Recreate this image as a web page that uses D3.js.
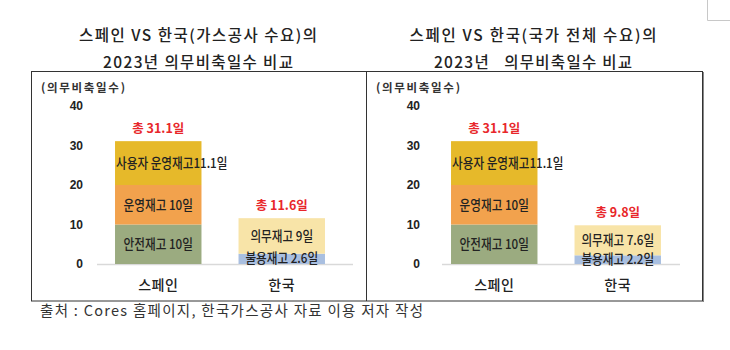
<!DOCTYPE html>
<html>
<head>
<meta charset="utf-8">
<script src="https://cdn.jsdelivr.net/npm/d3@7"></script>
<style>
  html, body { margin: 0; padding: 0; background: #fff; }
  svg { display: block; font-family: "Noto Sans CJK KR", "Noto Sans", sans-serif; }
</style>
</head>
<body>
<svg id="chart" width="730" height="350"></svg>
<script>
// Stockpile-obligation days, 2023
const categories = ["스페인", "한국"];
const spainLabels = ["안전재고", "운영재고", "사용자 운영재고"];
const spainDays = [10, 10, 11.1];
const koreaLabels = ["불용재고", "의무재고"];
const koreaGasDays = [2.6, 9];
const koreaNationalDays = [2.2, 7.6];
const yTicks = [0, 10, 20, 30, 40];

const titlesLeft = ["스페인 VS 한국(가스공사 수요)의", "2023년 의무비축일수 비교"];
const titlesRight = ["스페인 VS 한국(국가 전체 수요)의", "2023년\u00a0\u00a0\u00a0의무비축일수 비교"];
const yTitle = "(의무비축일수)";
const sourceNote = "출처 : Cores 홈페이지, 한국가스공사 자료 이용 저자 작성";

const spainColors = ["#9bab80", "#f2a24d", "#e6b92a"];
const koreaColors = ["#a9bfe0", "#f8e4a8"];

const svg = d3.select("#chart");

// corner mark at top right
svg.append("path")
  .attr("d", "M707.5,0 V20.5 H730")
  .attr("fill", "none").attr("stroke", "#c8c8c8").attr("stroke-width", 1);

// frame around both panels
svg.append("rect")
  .attr("x", 31.5).attr("y", 71.5).attr("width", 671).attr("height", 229.5)
  .attr("fill", "none").attr("stroke", "#333").attr("stroke-width", 1);
svg.append("line")
  .attr("x1", 703.5).attr("x2", 703.5).attr("y1", 72).attr("y2", 302)
  .attr("stroke", "#888").attr("stroke-width", 1);
svg.append("line")
  .attr("x1", 366.5).attr("x2", 366.5).attr("y1", 71.5).attr("y2", 301)
  .attr("stroke", "#333").attr("stroke-width", 1);

const y = d3.scaleLinear().domain([0, 40]).range([264, 106]);

function fmt(v) { return d3.format(".1f")(v).replace(/\.0$/, ""); }

// narrow a text run horizontally so the hangul reads condensed
function condense(sel, k) {
  const w = sel.node().getComputedTextLength();
  sel.attr("textLength", w * k).attr("lengthAdjust", "spacingAndGlyphs");
}

function drawPanel(opt) {
  const g = svg.append("g");

  // two-line title
  opt.titles.forEach((t, i) => {
    g.append("text")
      .attr("x", opt.titleX).attr("y", 41 + i * 27)
      .attr("text-anchor", "middle")
      .attr("font-size", 15.5).attr("font-weight", 500).attr("fill", "#222")
      .attr("textLength", opt.titleWidths[i]).attr("lengthAdjust", "spacing")
      .text(t);
  });

  g.append("text")
    .attr("x", opt.yTitleX).attr("y", 92)
    .attr("font-size", 11.5).attr("font-weight", 700).attr("fill", "#333")
    .attr("textLength", 84).attr("lengthAdjust", "spacing")
    .text(yTitle);

  const x = d3.scaleBand()
    .domain(categories)
    .range(opt.bandRange)
    .paddingInner(0.3)
    .paddingOuter(0.15);

  // value axis: labels only
  const yAxis = d3.axisLeft(y).tickValues(yTicks).tickSize(0).tickPadding(0);
  const ya = g.append("g").attr("transform", `translate(${opt.tickX},0)`).call(yAxis);
  ya.select(".domain").remove();
  ya.selectAll("text")
    .attr("font-family", "Liberation Sans, Arial, sans-serif")
    .attr("font-size", 12).attr("font-weight", 700).attr("fill", "#222");

  // baseline
  g.append("line")
    .attr("x1", opt.axisRange[0]).attr("x2", opt.axisRange[1])
    .attr("y1", y(0) + 0.5).attr("y2", y(0) + 0.5)
    .attr("stroke", "#d9d9d9").attr("stroke-width", 1.5);

  // category labels
  categories.forEach(c => {
    g.append("text")
      .attr("x", x(c) + x.bandwidth() / 2).attr("y", 290)
      .attr("text-anchor", "middle")
      .attr("font-size", 14).attr("font-weight", 500).attr("fill", "#222")
      .attr("letter-spacing", 0.5)
      .text(c);
  });

  const stacks = [
    { cat: "스페인", labels: spainLabels, values: spainDays, colors: spainColors },
    { cat: "한국", labels: koreaLabels, values: opt.koreaDays, colors: koreaColors }
  ];

  stacks.forEach(s => {
    let acc = 0;
    const segs = s.values.map((v, i) => {
      const seg = { y0: acc, y1: acc + v, v, label: s.labels[i], color: s.colors[i] };
      acc += v;
      return seg;
    });
    const bx = x(s.cat), bw = x.bandwidth();

    g.selectAll(null).data(segs).enter().append("rect")
      .attr("x", bx).attr("width", bw)
      .attr("y", d => y(d.y1)).attr("height", d => y(d.y0) - y(d.y1))
      .attr("fill", d => d.color);

    segs.forEach((d, i) => {
      const wide = d.label.length > 4;
      const t = g.append("text")
        .attr("y", (y(d.y0) + y(d.y1)) / 2 + 5 + (s.cat === "한국" && i === 0 ? -1 : 0))
        .attr("font-size", 13.5).attr("font-weight", 500).attr("fill", "#222")
        .text(d.label + (wide ? "" : " ") + fmt(d.v) + "일");
      if (wide) {
        t.attr("x", bx + 1).attr("text-anchor", "start");
      } else {
        t.attr("x", bx + bw / 2).attr("text-anchor", "middle");
      }
      condense(t, 0.86);
    });

    const total = d3.sum(s.values);
    g.append("text")
      .attr("x", bx + bw / 2).attr("y", y(total) - 8)
      .attr("text-anchor", "middle")
      .attr("font-size", 12.5).attr("font-weight", 700).attr("fill", "#e8262a")
      .text("총 " + d3.format(".1f")(total) + "일");
  });
}

drawPanel({
  titles: titlesLeft, titleWidths: [238, 190], titleX: 198, yTitleX: 41, tickX: 83,
  bandRange: [96.5, 343.5], axisRange: [97, 353], koreaDays: koreaGasDays
});
drawPanel({
  titles: titlesRight, titleWidths: [247, 198], titleX: 533, yTitleX: 376, tickX: 420,
  bandRange: [432.5, 679.5], axisRange: [442, 680], koreaDays: koreaNationalDays
});

svg.append("text")
  .attr("x", 40).attr("y", 316)
  .attr("font-size", 14.5).attr("fill", "#333")
  .attr("textLength", 383).attr("lengthAdjust", "spacing")
  .text(sourceNote);
</script>
</body>
</html>
